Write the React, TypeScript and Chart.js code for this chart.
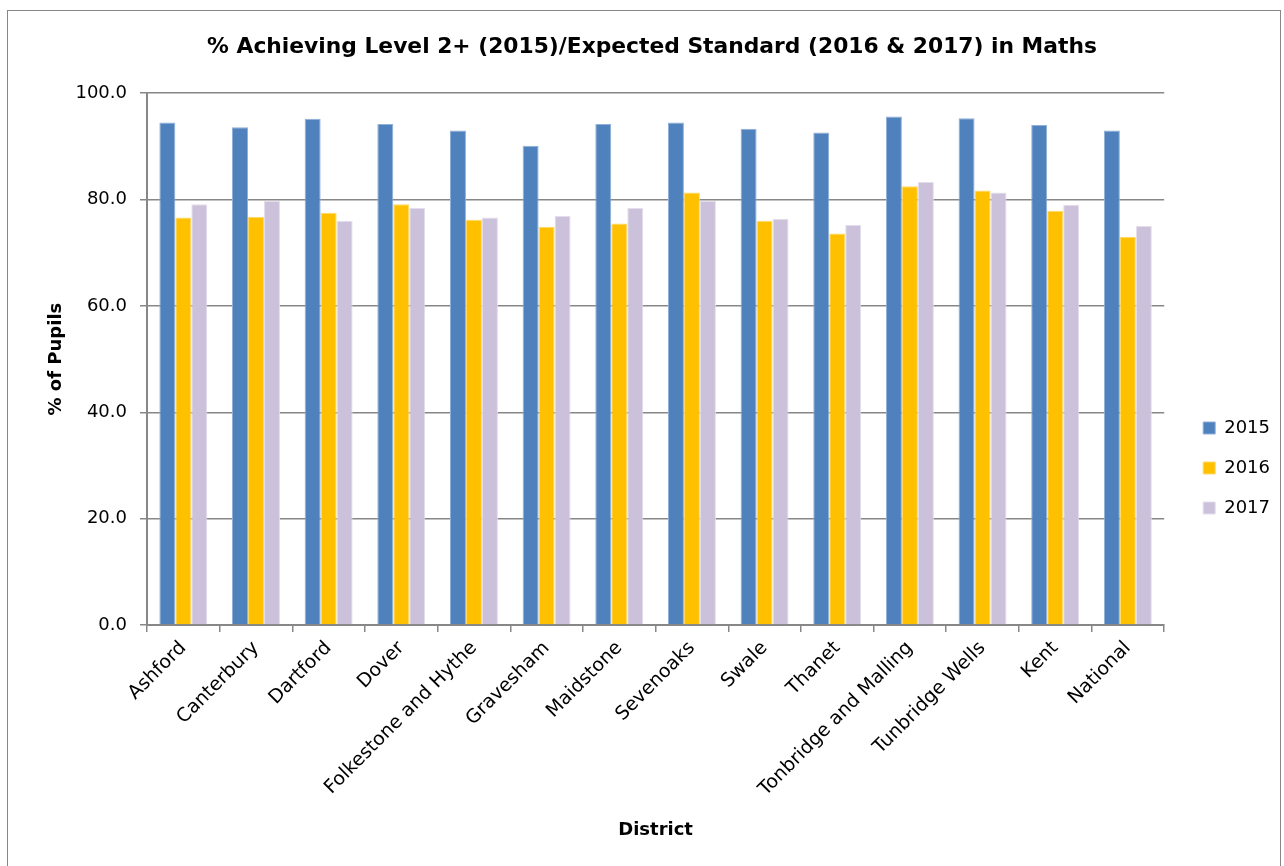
import React, { useEffect, useRef } from "react";
import { Chart, registerables } from "chart.js";

Chart.register(...registerables);

const districts = [
  "Ashford",
  "Canterbury",
  "Dartford",
  "Dover",
  "Folkestone and Hythe",
  "Gravesham",
  "Maidstone",
  "Sevenoaks",
  "Swale",
  "Thanet",
  "Tonbridge and Malling",
  "Tunbridge Wells",
  "Kent",
  "National",
];

const values2015 = [94.5, 93.6, 95.2, 94.2, 93.0, 90.1, 94.2, 94.5, 93.3, 92.6, 95.6, 95.3, 94.0, 93.0];
const values2016 = [76.6, 76.7, 77.5, 79.1, 76.2, 74.9, 75.5, 81.3, 76.0, 73.6, 82.5, 81.7, 77.9, 73.0];
const values2017 = [79.1, 79.7, 76.0, 78.4, 76.6, 76.9, 78.4, 79.7, 76.4, 75.2, 83.3, 81.3, 79.0, 75.0];

const yTicks = [0, 20, 40, 60, 80, 100];

const FONT = '"DejaVu Sans", Verdana, sans-serif';
const GRID = "#878787";

export default function App() {
  const ref = useRef<HTMLCanvasElement | null>(null);

  useEffect(() => {
    if (!ref.current) return;
    const legendPos = {
      id: "legendPos",
      beforeLayout(chart: any) {
        const l = chart.legend;
        if (!l || l._widened) return;
        const orig = l.fit;
        l.fit = function (...args: any[]) {
          orig.apply(this, args);
          this.width += 17;
        };
        l._widened = true;
      },
      afterLayout(chart: any) {
        const l = chart.legend;
        if (!l) return;
        const h = l.bottom - l.top;
        const c = 457;
        l.top = c - h / 2;
        l.bottom = c + h / 2;
        l.left += 17;
      },
    };
    const chart = new Chart(ref.current, {
      type: "bar",
      data: {
        labels: districts,
        datasets: [
          { label: "2015", data: values2015, backgroundColor: "#4F81BD", borderColor: "#8FB0D8", borderWidth: 1 },
          { label: "2016", data: values2016, backgroundColor: "#FFC000", borderColor: "#FFD966", borderWidth: 1 },
          { label: "2017", data: values2017, backgroundColor: "#CCC1DA", borderColor: "#E4DEEC", borderWidth: 1 },
        ],
      },
      plugins: [legendPos],
      options: {
        animation: false,
        responsive: false,
        maintainAspectRatio: false,
        datasets: { bar: { barPercentage: 1, categoryPercentage: 0.66 } },
        layout: { padding: { left: 16, right: 0, top: 0, bottom: 0 } },
        plugins: {
          title: {
            display: true,
            text: "% Achieving Level 2+ (2015)/Expected Standard (2016 & 2017) in Maths",
            color: "#000",
            font: { family: FONT, size: 21.8, weight: "bold" },
            padding: { top: 23, bottom: 33 },
          },
          legend: {
            position: "right",
            align: "center",
            labels: {
              color: "#000",
              font: { family: FONT, size: 18 },
              boxWidth: 12,
              boxHeight: 12,
              padding: 22,
            },
          },
          tooltip: { enabled: false },
        },
        scales: {
          x: {
            grid: {
              display: true,
              drawOnChartArea: false,
              drawTicks: true,
              tickLength: 7,
              offset: true,
              color: GRID,
              lineWidth: 1.5,
            },
            border: { display: true, color: GRID, width: 2 },
            ticks: {
              color: "#000",
              font: { family: FONT, size: 19 },
              minRotation: 45,
              maxRotation: 45,
              autoSkip: false,
              padding: 5,
            },
            title: {
              display: true,
              text: "District",
              color: "#000",
              font: { family: FONT, size: 18, weight: "bold" },
              padding: { top: 0, bottom: 30 },
            },
            afterFit(scale: any) {
              scale.height = 246;
            },
          },
          y: {
            min: 0,
            max: 100,
            afterBuildTicks(scale: any) {
              scale.ticks = yTicks.map((v) => ({ value: v }));
            },
            grid: {
              color: GRID,
              lineWidth: 1.5,
              drawTicks: true,
              tickLength: 7,
            },
            border: { display: true, color: GRID, width: 2 },
            ticks: {
              color: "#000",
              font: { family: FONT, size: 18 },
              padding: 13,
              callback: (v: any) => Number(v).toFixed(1),
            },
            title: {
              display: true,
              text: "% of Pupils",
              color: "#000",
              font: { family: FONT, size: 18, weight: "bold" },
              padding: { top: 22, bottom: 0 },
            },
            afterFit(scale: any) {
              scale.width = 123;
            },
          },
        },
      },
    });
    return () => chart.destroy();
  }, []);

  return (
    <div
      style={{
        position: "absolute",
        left: 7,
        top: 10,
        width: 1272,
        height: 860,
        border: "1px solid #878787",
        background: "#fff",
      }}
    >
      <canvas ref={ref} width={1272} height={860} style={{ display: "block", width: 1272, height: 860 }} />
    </div>
  );
}
